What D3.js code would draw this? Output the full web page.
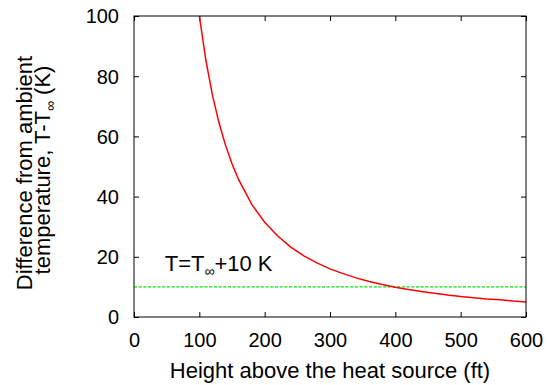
<!DOCTYPE html>
<html>
<head>
<meta charset="utf-8">
<script src="https://cdn.jsdelivr.net/npm/d3@7"></script>
<style>
  body { margin: 0; background: #fff; }
  svg { display: block; font-family: "Liberation Sans", Arial, Helvetica, sans-serif; }
  .tick text { font-size: 20px; fill: #000; }
  .lbl { font-size: 22px; fill: #000; }
</style>
</head>
<body>
<div id="chart"></div>
<script>
// 高さ (ft) と 周囲温度との差 (K)、図から読み取った値
const heights = [100, 110, 120, 130, 140, 150, 160, 180, 200, 220, 240, 260, 280, 300,
                 320, 340, 360, 380, 400, 420, 440, 460, 480, 500, 520, 540, 560, 580, 600];
const tempDiff = [100, 85.3, 73.8, 64.6, 57.1, 50.9, 45.7, 37.5, 31.5, 26.9, 23.2, 20.3, 18.0, 16.0,
                  14.4, 13.0, 11.8, 10.8, 9.9, 9.1, 8.5, 7.9, 7.3, 6.8, 6.4, 6.0, 5.7, 5.3, 5.0];
// 基準線 T = T∞ + 10 K
const refLevel = [10];
const xTicks = [0, 100, 200, 300, 400, 500, 600];
const yTicks = [0, 20, 40, 60, 80, 100];

const W = 547, H = 385;
const margin = {top: 16, right: 21, bottom: 68, left: 134};
const width = W - margin.left - margin.right;
const height = H - margin.top - margin.bottom;

const x = d3.scaleLinear().domain([0, 600]).range([0, width]);
const y = d3.scaleLinear().domain([0, 100]).range([height, 0]);

const svg = d3.select("#chart").append("svg")
    .attr("width", W)
    .attr("height", H);
const g = svg.append("g")
    .attr("transform", "translate(" + margin.left + "," + margin.top + ")");

g.append("clipPath").attr("id", "clip")
  .append("rect").attr("width", width).attr("height", height);

// 軸（目盛りは内向き、上と右はミラー）
function styleAxis(sel) {
  sel.select(".domain").remove();
  sel.selectAll(".tick line").attr("stroke", "#000").attr("stroke-width", 1);
}
g.append("g")
    .attr("transform", "translate(0," + height + ")")
    .call(d3.axisBottom(x).tickValues(xTicks).tickSizeInner(-5).tickPadding(16))
    .call(styleAxis);
g.append("g")
    .call(d3.axisTop(x).tickValues(xTicks).tickSizeInner(-5).tickFormat(""))
    .call(styleAxis);
g.append("g")
    .call(d3.axisLeft(y).tickValues(yTicks).tickSizeInner(-5).tickPadding(15))
    .call(styleAxis)
    .selectAll(".tick text").attr("dy", "0.34em");
g.append("g")
    .attr("transform", "translate(" + width + ",0)")
    .call(d3.axisRight(y).tickValues(yTicks).tickSizeInner(-5).tickFormat(""))
    .call(styleAxis);

g.selectAll(".tick text").attr("fill", "#000");

// 基準線（緑の破線）
g.selectAll(".ref").data(refLevel).enter().append("line")
    .attr("class", "ref")
    .attr("x1", 0).attr("x2", width)
    .attr("y1", d => y(d)).attr("y2", d => y(d))
    .attr("stroke", "#00e600")
    .attr("stroke-width", 1.2)
    .attr("stroke-dasharray", "3,1.7");

// 温度差の曲線
const line = d3.line().x(d => x(d[0])).y(d => y(d[1]));
g.append("path")
    .datum(d3.zip(heights, tempDiff))
    .attr("clip-path", "url(#clip)")
    .attr("fill", "none")
    .attr("stroke", "#ff0000")
    .attr("stroke-width", 1.5)
    .attr("d", line);

// 枠
g.append("rect")
    .attr("width", width).attr("height", height)
    .attr("fill", "none").attr("stroke", "#000").attr("stroke-width", 1);

// 注記ラベル
const note = g.append("text").attr("class", "lbl")
    .attr("x", x(47)).attr("y", y(15.3));
note.append("tspan").text("T=T");
note.append("tspan").attr("dy", 5).style("font-size", "14px").text("∞");
note.append("tspan").attr("dy", -5).text("+10 K");

// x軸ラベル
svg.append("text").attr("class", "lbl")
    .attr("x", margin.left + width / 2)
    .attr("y", 378)
    .attr("text-anchor", "middle")
    .text("Height above the heat source (ft)");

// y軸ラベル（2行）
svg.append("text").attr("class", "lbl")
    .attr("transform", "translate(32,173) rotate(-90)")
    .attr("text-anchor", "middle")
    .text("Difference from ambient");
const yl2 = svg.append("text").attr("class", "lbl")
    .attr("transform", "translate(49.5,170) rotate(-90)")
    .attr("text-anchor", "middle");
yl2.append("tspan").text("temperature, T-T");
yl2.append("tspan").attr("dy", 5).style("font-size", "14px").text("∞");
yl2.append("tspan").attr("dy", -5).text(" (K)");
</script>
</body>
</html>
